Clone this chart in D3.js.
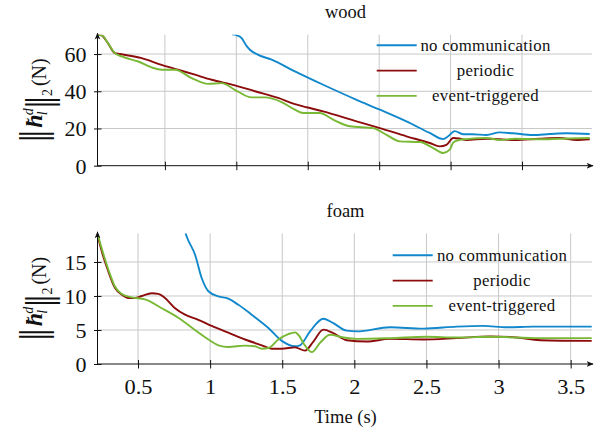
<!DOCTYPE html>
<html>
<head>
<meta charset="utf-8">
<script src="https://cdn.jsdelivr.net/npm/d3@7"></script>
<style>
  html, body { margin: 0; padding: 0; background: #fff; }
  svg { display: block; }
</style>
</head>
<body>
<div id="chart"></div>
<script>
/* ---- data ---- */
const seriesNames = ['no communication', 'periodic', 'event-triggered'];
const seriesColors = ['#1188cc', '#8c0c0c', '#78b834'];

// wood: [time, ||h||]
const woodNoComm = [[0.97,70.6],[1.0,70.2],[1.037,68.6],[1.07,64.5],[1.095,62.3],[1.153,59.6],[1.247,57],[1.41,50.7],[1.608,43.5],[1.842,35.4],[2.005,30.1],[2.191,23.8],[2.354,17.6],[2.448,14.3],[2.483,15.8],[2.529,18.6],[2.587,16.9],[2.65,16.9],[2.751,16.5],[2.844,17.9],[2.937,17.4],[3.077,16.5],[3.194,17],[3.311,17.4],[3.474,17]];
const woodPeriodic = [[0.028,70.6],[0.057,70],[0.10,66],[0.15,60.5],[0.185,60],[0.337,57.8],[0.477,54.2],[0.591,51.6],[0.71,48.9],[0.827,46.2],[0.99,43.2],[1.13,40],[1.293,36.4],[1.41,33.1],[1.492,31.4],[1.608,29.2],[1.842,23.8],[2.005,20.2],[2.191,15.8],[2.354,12.2],[2.424,10.4],[2.471,11.2],[2.518,14.9],[2.56,14.6],[2.611,13.8],[2.751,14.5],[2.844,14.2],[2.95,13.8],[3.124,14.5],[3.264,14.9],[3.381,13.8],[3.474,14.2]];
const woodEvent = [[0.028,70.4],[0.06,70],[0.10,66],[0.15,60.5],[0.197,58.7],[0.313,56],[0.407,52.8],[0.477,51.6],[0.57,51.6],[0.687,47.1],[0.803,44],[0.897,44.4],[0.99,40.8],[1.107,36.7],[1.2,36.7],[1.317,34.2],[1.41,30.1],[1.468,28.3],[1.585,28.3],[1.678,24.7],[1.795,21.2],[1.958,20.2],[2.051,16.6],[2.144,13.1],[2.285,12.7],[2.378,9.5],[2.448,6.8],[2.494,8.6],[2.52,12.6],[2.56,13.8],[2.611,14.3],[2.751,14.9],[2.844,13.8],[2.95,14.5],[3.124,14.2],[3.264,14.5],[3.474,14.9]];

// foam
const foamNoComm = [[0.815,20.2],[0.84,18.6],[0.895,16.1],[0.942,12.6],[0.988,10.7],[1.057,9.95],[1.126,9.6],[1.196,8.7],[1.288,7.25],[1.404,5.3],[1.497,3.4],[1.589,2.6],[1.623,2.75],[1.693,4.8],[1.785,6.65],[1.854,6],[1.947,4.9],[2.017,4.8],[2.248,5.4],[2.478,5.2],[2.71,5.5],[2.895,5.6],[3.057,5.4],[3.241,5.5],[3.646,5.5]];
const foamPeriodic = [[0.219,19],[0.248,16.6],[0.294,13.6],[0.34,11.2],[0.387,10.2],[0.433,9.7],[0.479,9.7],[0.526,10],[0.595,10.4],[0.641,10.3],[0.687,9.7],[0.757,8.2],[0.826,7.25],[0.918,6.5],[1.011,5.6],[1.126,4.6],[1.242,3.6],[1.358,2.75],[1.427,2.25],[1.497,2.25],[1.589,2.45],[1.658,1.96],[1.716,3.3],[1.785,5.05],[1.854,4.55],[1.947,3.5],[2.086,3.3],[2.248,3.7],[2.478,3.6],[2.71,3.8],[2.941,4.05],[3.126,3.9],[3.288,3.5],[3.646,3.4]];
const foamEvent = [[0.219,19.2],[0.248,17],[0.294,13.9],[0.34,11.4],[0.387,10.3],[0.456,9.8],[0.549,9.5],[0.664,8.2],[0.779,6.8],[0.895,5],[0.988,3.6],[1.057,2.75],[1.126,2.5],[1.242,2.7],[1.311,2.6],[1.358,2.25],[1.404,2.35],[1.473,3.6],[1.542,4.4],[1.589,4.65],[1.615,4.2],[1.646,3.1],[1.705,1.75],[1.762,3.1],[1.831,4.3],[1.924,3.9],[2.017,3.7],[2.248,3.8],[2.502,4.0],[2.71,3.9],[2.941,4.0],[3.288,3.8],[3.646,3.8]];

const woodYTicks = [0, 20, 40, 60];
const woodXTicks = [0.5, 1, 1.5, 2, 2.5, 3];
const foamYTicks = [0, 5, 10, 15];
const foamXTicks = [0.5, 1, 1.5, 2, 2.5, 3, 3.5];

/* ---- layout ---- */
const W = 602, H = 429;
const SERIF = "'Liberation Serif', 'Times New Roman', serif";
const svg = d3.select('#chart').append('svg').attr('width', W).attr('height', H)
  .attr('font-family', SERIF);

const defs = svg.append('defs');
defs.append('marker').attr('id','arr').attr('viewBox','0 0 10 10').attr('refX',9).attr('refY',5)
  .attr('markerWidth',7).attr('markerHeight',7).attr('markerUnits','userSpaceOnUse').attr('orient','auto')
  .append('path').attr('d','M0,1 L10,5 L0,9 L2.5,5 Z').attr('fill','#111');

function txt(sel) {
  return sel.attr('font-family', SERIF).style('font-family', SERIF).attr('fill', '#111');
}

function drawPanel(cfg, idx) {
  const x = d3.scaleLinear().domain(cfg.xDomain).range([97.5, 592]);
  const y = d3.scaleLinear().domain(cfg.yDomain).range(cfg.yRange);
  const g = svg.append('g');

  // grid
  g.append('g').selectAll('line').data(cfg.xTicks).join('line')
    .attr('x1', d => x(d)).attr('x2', d => x(d)).attr('y1', y.range()[0]).attr('y2', y.range()[1])
    .attr('stroke','#c8c8c8').attr('stroke-width',1);
  g.append('g').selectAll('line').data(cfg.yTicks.filter(d => d > 0)).join('line')
    .attr('x1', 97.5).attr('x2', 592).attr('y1', d => y(d)).attr('y2', d => y(d))
    .attr('stroke','#c8c8c8').attr('stroke-width',1);

  // lines
  const clipId = 'clip' + idx;
  defs.append('clipPath').attr('id', clipId).append('rect')
    .attr('x', 97.5).attr('y', y.range()[1]).attr('width', 592 - 97.5).attr('height', y.range()[0] - y.range()[1]);
  const line = d3.line().x(d => x(d[0])).y(d => y(d[1])).curve(d3.curveMonotoneX);
  g.append('g').attr('clip-path', `url(#${clipId})`).selectAll('path').data(cfg.series).join('path')
    .attr('d', d => line(d)).attr('fill','none')
    .attr('stroke', (d, i) => seriesColors[i]).attr('stroke-width', 1.9);

  // axes
  const y0 = y(0);
  g.append('line').attr('x1', 97.5).attr('x2', 593).attr('y1', y0).attr('y2', y0)
    .attr('stroke','#111').attr('stroke-width',1).attr('marker-end','url(#arr)');
  g.append('line').attr('x1', 97.5).attr('x2', 97.5).attr('y1', y0 + 0.5).attr('y2', y.range()[1] - 1.5)
    .attr('stroke','#111').attr('stroke-width',1).attr('marker-end','url(#arr)');

  const xAxis = d3.axisBottom(x).tickValues(cfg.xTicks).tickSizeInner(0).tickSizeOuter(0)
    .tickFormat(cfg.xLabels ? d3.format('') : () => '');
  const xa = g.append('g').attr('transform', `translate(0,${y0})`).call(xAxis).attr('font-family', SERIF);
  xa.select('.domain').remove();
  xa.selectAll('.tick line').attr('y1', -4).attr('y2', 4.5).attr('stroke','#111');
  txt(xa.selectAll('.tick text')).attr('y', 16).attr('dy', '0.71em')
    .attr('transform', 'scale(1.12,1)').style('font-size','20px');

  const yAxis = d3.axisLeft(y).tickValues(cfg.yTicks).tickSizeInner(0).tickSizeOuter(0);
  const ya = g.append('g').attr('transform', 'translate(97.5,0)').call(yAxis).attr('font-family', SERIF);
  ya.select('.domain').remove();
  ya.selectAll('.tick line').attr('x1', -3.5).attr('x2', 4).attr('stroke','#111');
  txt(ya.selectAll('.tick text')).attr('x', -11).attr('dy','0.34em').style('font-size','22px');

  // title
  txt(svg.append('text')).attr('x', 345.5).attr('y', cfg.titleY).attr('text-anchor','middle')
    .style('font-size','18.5px').text(cfg.title);

  // y label  ||h~_l^d||_2 (N)
  const cy = (y.range()[0] + y.range()[1]) / 2;
  const lab = txt(svg.append('text')).attr('transform', `translate(42,${cy}) rotate(-90)`).attr('text-anchor','middle');
  lab.append('tspan').style('font-size','38px').attr('dy', 4).text('|');
  lab.append('tspan').style('font-size','38px').attr('dx', -3).text('|');
  lab.append('tspan').style('font-size','24px').style('font-weight','bold').style('font-style','italic')
    .attr('dx', 2).attr('dy', -4).text('h');
  lab.append('tspan').style('font-size','22px').attr('dx', -11).attr('dy', -1).text('\u02dc');
  lab.append('tspan').style('font-size','14px').style('font-style','italic').attr('dx', 3).attr('dy', -8).text('d');
  lab.append('tspan').style('font-size','14px').style('font-style','italic').attr('dx', -7).attr('dy', 14).text('l');
  lab.append('tspan').style('font-size','38px').attr('dx', 3).attr('dy', 5).text('|');
  lab.append('tspan').style('font-size','38px').attr('dx', -3).text('|');
  lab.append('tspan').style('font-size','14px').attr('dy', 0).text('2');
  lab.append('tspan').style('font-size','20px').attr('dx', 3).attr('dy', -6).text('(N)');

  // legend
  const lg = svg.append('g');
  seriesNames.forEach((name, i) => {
    const ly = cfg.legendY + i * 25.3;
    lg.append('line').attr('x1', cfg.legendX).attr('x2', cfg.legendX + 40).attr('y1', ly).attr('y2', ly)
      .attr('stroke', seriesColors[i]).attr('stroke-width', 1.9);
    txt(lg.append('text')).attr('x', cfg.legendTextX).attr('y', ly + 5.5).attr('text-anchor','middle')
      .style('font-size','16.8px').style('letter-spacing','0.3px').text(name);
  });
}

drawPanel({
  title: 'wood', titleY: 18,
  xDomain: [0.028, 3.49], yDomain: [0, 70.4], yRange: [165.7, 34.7],
  xTicks: woodXTicks, yTicks: woodYTicks, xLabels: false,
  series: [woodNoComm, woodPeriodic, woodEvent],
  legendX: 376.7, legendTextX: 485.5, legendY: 45.3
}, 0);

drawPanel({
  title: 'foam', titleY: 216.5,
  xDomain: [0.219, 3.648], yDomain: [0, 19.2], yRange: [364, 233.4],
  xTicks: foamXTicks, yTicks: foamYTicks, xLabels: true,
  series: [foamNoComm, foamPeriodic, foamEvent],
  legendX: 392.7, legendTextX: 502, legendY: 255.3
}, 1);

txt(svg.append('text')).attr('x', 345.5).attr('y', 423).attr('text-anchor','middle')
  .style('font-size','18.5px').text('Time (s)');
</script>
</body>
</html>
